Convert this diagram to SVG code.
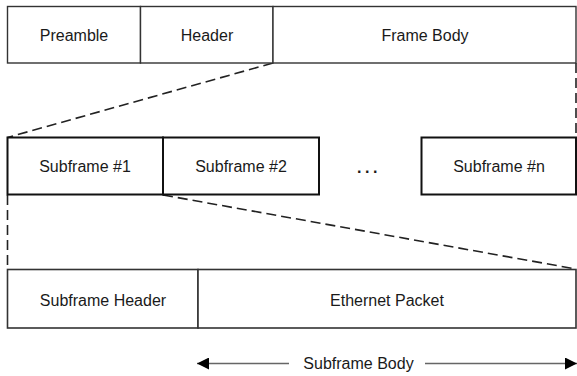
<svg xmlns="http://www.w3.org/2000/svg" width="577" height="376" viewBox="0 0 577 376">
<style>
text{font-family:"Liberation Sans",Arial,sans-serif;font-size:16px;fill:#1a1a1a;text-anchor:middle}
.t rect,.t line{fill:#fff;stroke:#333;stroke-width:1.4}
.m rect,.m line{fill:#fff;stroke:#111;stroke-width:2}
.b rect,.b line{fill:#fff;stroke:#333;stroke-width:1.6}
.dash{fill:none;stroke:#222;stroke-width:1.6;stroke-dasharray:10 5}
.arr{stroke:#666;stroke-width:1.6;fill:none}
</style>
<defs>
<marker id="ah" viewBox="0 0 10 10" refX="10" refY="5" markerWidth="12" markerHeight="12" markerUnits="userSpaceOnUse" orient="auto-start-reverse"><path d="M0,0L10,5L0,10z" fill="#000"/></marker>
</defs>
<g id="connectors">
<line class="dash" x1="273" y1="63" x2="7.5" y2="137.5"/>
<line class="dash" x1="576" y1="63" x2="576" y2="137.5"/>
<line class="dash" x1="7.5" y1="195" x2="7.5" y2="269"/>
<line class="dash" x1="163" y1="195" x2="576" y2="269"/>
<line class="arr" x1="197" y1="363.5" x2="289" y2="363.5" marker-start="url(#ah)"/>
<line class="arr" x1="425" y1="363.5" x2="577" y2="363.5" marker-end="url(#ah)"/>
</g>
<g id="frame" class="t">
<g id="preamble"><rect x="7.5" y="6.5" width="133" height="56.5"/><text x="74" y="40.5">Preamble</text></g>
<g id="header"><rect x="140.5" y="6.5" width="132.5" height="56.5"/><text x="207" y="40.5">Header</text></g>
<g id="framebody"><rect x="273" y="6.5" width="303" height="56.5"/><text x="425" y="40.5">Frame Body</text></g>
</g>
<g id="subframes" class="m">
<g id="sf1"><rect x="7.5" y="137.5" width="155.5" height="57"/><text x="85" y="172">Subframe #1</text></g>
<g id="sf2"><rect x="163" y="137.5" width="156" height="57"/><text x="241" y="172">Subframe #2</text></g>
<g id="dots"><text x="369" y="173" style="letter-spacing:3.5px;font-weight:bold">...</text></g>
<g id="sfn"><rect x="421.5" y="137.5" width="154.5" height="57"/><text x="499" y="172">Subframe #n</text></g>
</g>
<g id="subframe" class="b">
<g id="sfheader"><rect x="7.5" y="269.5" width="190.5" height="58.5"/><text x="103" y="306">Subframe Header</text></g>
<g id="ethernet"><rect x="198" y="269.5" width="378" height="58.5"/><text x="387" y="306">Ethernet Packet</text></g>
</g>
<g id="bodylabel"><text x="358.5" y="369">Subframe Body</text></g>
</svg>
